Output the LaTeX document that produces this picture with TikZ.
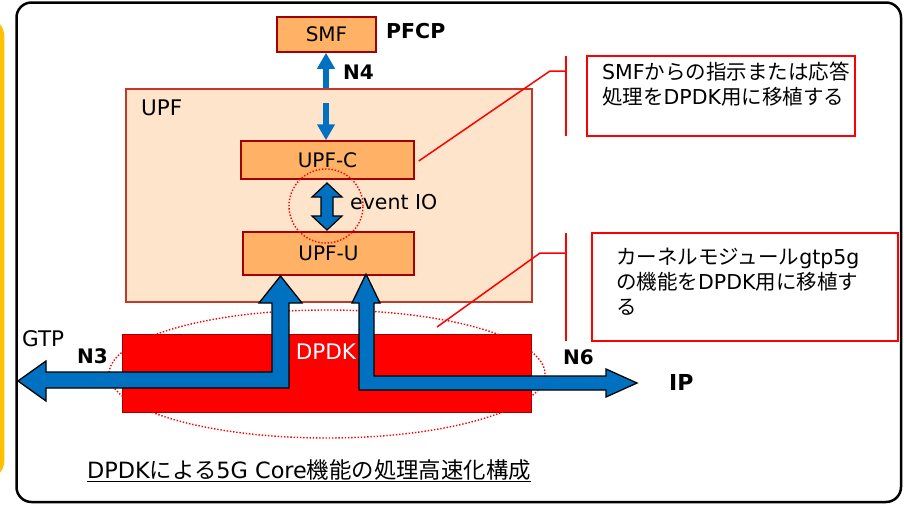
\documentclass[tikz,border=0pt]{standalone}
\usepackage{fontspec}
\setmainfont{DejaVu Sans}
\newfontfamily\jpf{Noto Sans CJK JP}
\usetikzlibrary{arrows.meta,shapes.geometric}
\definecolor{boxor}{HTML}{FFB266}
\definecolor{boxbd}{HTML}{A50000}
\definecolor{upffill}{HTML}{FDE4CA}
\definecolor{upfbd}{HTML}{C0392B}
\definecolor{bluea}{HTML}{0070C0}
\definecolor{yel}{HTML}{FFC000}
\tikzset{
  fnbox/.style={draw=boxbd, fill=boxor, line width=1.5pt, inner sep=0pt, font=\fontsize{20}{24}\selectfont},
  lbl/.style={inner sep=0pt, font=\fontsize{20.5}{24}\selectfont},
  blbl/.style={inner sep=0pt, font=\fontsize{20}{24}\selectfont\bfseries},
  callbox/.style={draw=red, line width=1.5pt},
  leader/.style={draw=red, line width=1.5pt},
  dotline/.style={draw=red, line width=1.4pt, dash pattern=on 1.4pt off 1.8pt},
  fatarrow/.style={fill=bluea, draw=black, line width=1.3pt, line join=miter},
  n4arrow/.style={draw=bluea, line width=6pt, -{Triangle[width=17pt,length=16pt]}},
  jtext/.style={inner sep=0pt, align=left, anchor=north west, font=\fontsize{20.5}{25}\selectfont}
}
\begin{document}
\begin{tikzpicture}[x=1pt,y=-1pt]
\useasboundingbox (0,0) rectangle (904,504);
% yellow bar and frame
\draw[yel, line width=4.5pt, rounded corners=16pt] (-40,20) rectangle (2,477);
\draw[black, line width=2.5pt, rounded corners=15pt] (16.5,2.5) rectangle (901,502);

% UPF container
\draw[upfbd, fill=upffill, line width=1.5pt] (126,89) rectangle (532,302);
\node[lbl, font=\fontsize{21.5}{24}\selectfont, anchor=west] (upflbl) at (141,108) {UPF};

% SMF
\node[fnbox, minimum width=99pt, minimum height=35pt] (smf) at (326.5,34.5) {SMF};
\node[blbl, font=\fontsize{20.5}{24}\selectfont\bfseries, anchor=west] (pfcp) at (386,31) {PFCP};

% UPF-C / UPF-U
\node[fnbox, minimum width=173pt, minimum height=38pt] (upfc) at (327.5,160) {UPF-C};
\node[fnbox, minimum width=171pt, minimum height=43pt] (upfu) at (328.5,253.5) {UPF-U};

% N4 arrows
\coordinate (n4a) at (326,88);
\coordinate (n4b) at (326,103);
\draw[n4arrow] (n4a) -- (smf.south -| n4a);
\draw[n4arrow] (n4b) -- (upfc.north -| n4b);
\node[blbl, anchor=west] (n4) at (343,72) {N4};

% event IO
\draw[fatarrow, line width=1.2pt] (327,183) -- (342,197) -- (333,197) -- (333,216) -- (342,216)
  -- (327,230) -- (312,216) -- (321,216) -- (321,197) -- (312,197) -- cycle;
\node[dotline, circle, minimum size=74pt, inner sep=0pt] (eio) at (326,206) {};
\node[lbl, anchor=west] (eiolbl) at (350,202.5) {event IO};

% DPDK
\node[draw=boxbd, fill=red, line width=1pt, minimum width=409pt, minimum height=78pt, inner sep=0pt] (dpdk) at (326.5,373) {};
\node[lbl, text=white, font=\fontsize{21.5}{24}\selectfont] (dpdklbl) at (326,352) {DPDK};
\node[dotline, ellipse, minimum width=436pt, minimum height=128pt, inner sep=0pt] (dell) at (327,374) {};

% leader lines
\coordinate (l1a) at (550,71);
\coordinate (l1b) at (566,71);
\draw[leader] (upfc.east |- 0,161) ++(4,0) -- (l1a) -- (l1b);
\coordinate (l2s) at (437,327);
\coordinate (l2a) at (540,253);
\coordinate (l2b) at (566,253);
\draw[leader] (l2s) -- (l2a) -- (l2b);

% fat arrows
\draw[fatarrow] (280.5,276) -- (302,303) -- (289,303) -- (289,388) -- (46,388) -- (46,401)
  -- (18,381) -- (46,361) -- (46,372) -- (272,372) -- (272,303) -- (259,303) -- cycle;
\draw[fatarrow] (366,274) -- (380,303) -- (374,303) -- (374,376) -- (606,376) -- (606,369)
  -- (637,383) -- (606,397) -- (606,390) -- (359,390) -- (359,303) -- (352,303) -- cycle;

% labels
\node[lbl, font=\fontsize{21.5}{24}\selectfont, anchor=west] (gtp) at (22,339) {GTP};
\node[blbl, anchor=west] (n3) at (77,356) {N3};
\node[blbl, anchor=west] (n6) at (563,357) {N6};
\node[blbl, font=\fontsize{22}{24}\selectfont\bfseries, anchor=west] (ip) at (669,382) {IP};

% callouts
\draw[leader] (566,56) -- (566,136);
\node[callbox, minimum width=268pt, minimum height=80pt, inner sep=0pt] (c1) at (721,96) {};
\node[jtext] (c1t) at (602,62) {SMF{\jpf からの指示または応答}\\{\jpf 処理を}DPDK{\jpf 用に移植する}};
\draw[leader] (566,233) -- (566,341);
\node[callbox, minimum width=306pt, minimum height=108pt, inner sep=0pt] (c2) at (745,287) {};
\node[jtext] (c2t) at (616,248) {{\jpf カーネルモジュール}gtp5g\\{\jpf の機能を}DPDK{\jpf 用に移植す}\\{\jpf る}};

% caption
\node[inner sep=0pt, anchor=west, font=\fontsize{22.4}{26}\selectfont] (cap) at (87,470)
  {DPDK{\jpf による}5G Core{\jpf 機能の処理高速化構成}};
\draw[line width=1.5pt] ([yshift=-1pt]cap.south west) -- ([yshift=-1pt]cap.south east);
\end{tikzpicture}
\end{document}
